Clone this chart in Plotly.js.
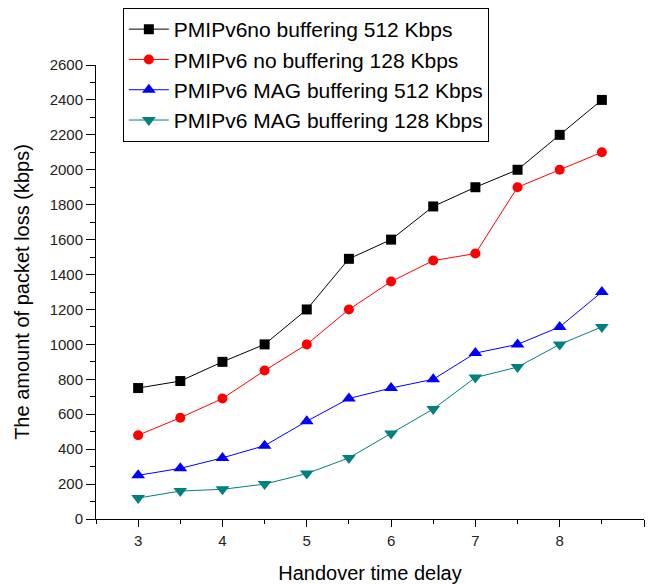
<!DOCTYPE html>
<html>
<head>
<meta charset="utf-8">
<script src="https://cdn.plot.ly/plotly-3.0.1.min.js"></script>
<style>html,body{margin:0;padding:0;background:#fff;}#chart{width:648px;height:584px;}</style>
</head>
<body>
<div id="chart"></div>
<script>
const delays = [3, 3.5, 4, 4.5, 5, 5.5, 6, 6.5, 7, 7.5, 8, 8.5];
const noBuf512 = [750, 790, 900, 1000, 1200, 1490, 1600, 1790, 1900, 2000, 2200, 2400];
const noBuf128 = [480, 580, 690, 850, 1000, 1200, 1360, 1480, 1520, 1900, 2000, 2100];
const magBuf512 = [250, 290, 350, 420, 560, 690, 750, 800, 950, 1000, 1100, 1300];
const magBuf128 = [120, 160, 170, 200, 260, 350, 490, 630, 810, 870, 1000, 1100];
const seriesNames = [
  "PMIPv6no buffering 512 Kbps",
  "PMIPv6 no buffering 128 Kbps",
  "PMIPv6 MAG buffering 512 Kbps",
  "PMIPv6 MAG buffering 128 Kbps"
];
const xTickVals = [3, 4, 5, 6, 7, 8, 9];

const font = "Liberation Sans, Arial, sans-serif";
function tr(y, name, color, symbol, size) {
  return {
    x: delays, y: y, name: name, type: 'scatter', mode: 'lines+markers',
    line: {color: color, width: 1},
    marker: {color: color, symbol: symbol, size: size}
  };
}
const data = [
  tr(noBuf512, seriesNames[0], '#000000', 'square', 10),
  tr(noBuf128, seriesNames[1], '#ff0000', 'circle', 10),
  tr(magBuf512, seriesNames[2], '#0000ff', 'triangle-up', 12),
  tr(magBuf128, seriesNames[3], '#008080', 'triangle-down', 12)
];
const layout = {
  width: 648, height: 584,
  margin: {l: 96, r: 4, t: 65, b: 65},
  paper_bgcolor: '#fff', plot_bgcolor: '#fff',
  font: {family: font, color: '#000'},
  showlegend: true,
  legend: {
    x: 0.049, y: 1.1256, xanchor: 'left', yanchor: 'top',
    bgcolor: '#fff', bordercolor: '#000', borderwidth: 1,
    font: {size: 21, family: font, color: '#000'},
    itemwidth: 40, tracegroupgap: 0
  },
  xaxis: {
    range: [2.5, 9], tickvals: xTickVals, ticktext: xTickVals.map(String),
    showgrid: false, zeroline: false, showline: true, linecolor: '#000', linewidth: 1,
    ticks: 'outside', ticklen: 7, tickcolor: '#000', ticklabelstandoff: 1,
    minor: {dtick: 0.5, tick0: 2.5, ticks: 'outside', ticklen: 4, tickcolor: '#000', showgrid: false},
    tickfont: {size: 15, color: '#222'},
    title: {text: 'Handover time delay', font: {size: 20, color: '#000'}, standoff: 18}
  },
  yaxis: {
    range: [0, 2600], dtick: 200, tick0: 0,
    showgrid: false, zeroline: false, showline: true, linecolor: '#000', linewidth: 1,
    ticks: 'outside', ticklen: 9, tickcolor: '#000',
    minor: {dtick: 100, ticks: 'outside', ticklen: 5, tickcolor: '#000', showgrid: false},
    tickfont: {size: 15, color: '#222'},
    title: {text: 'The amount of packet loss (kbps)', font: {size: 20, color: '#000'}, standoff: 14}
  }
};
Plotly.newPlot('chart', data, layout, {displayModeBar: false, staticPlot: true});
</script>
</body>
</html>
